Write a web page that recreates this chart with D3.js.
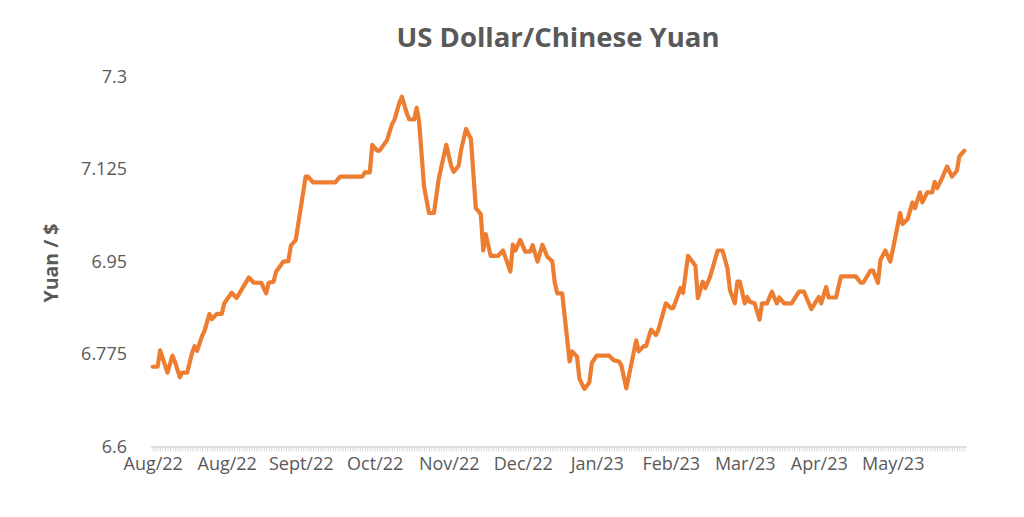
<!DOCTYPE html>
<html>
<head>
<meta charset="utf-8">
<script src="https://cdn.jsdelivr.net/npm/d3@7"></script>
<style>
  html, body { margin: 0; padding: 0; background: #fff; }
  svg { display: block; }
  text { font-family: "Open Sans", sans-serif; fill: #595959; }
</style>
</head>
<body>
<svg id="chart" width="1024" height="517"></svg>
<script>
// ---- data (day index from start of series, USD/CNY rate) ----
const dayIndex = [0,2,3,6,8,9,11,12,14,16,17,18,20,21,23,24,26,28,29,32,34,39,41,44,46,47,49,50,53,55,56,58,62,63,65,74,76,85,86,88,89,91,92,95,97,98,100,101,103,104,106,107,108,110,112,114,116,117,119,121,122,124,125,127,129,131,133,134,135,137,140,142,145,146,147,149,151,153,154,156,158,160,162,163,164,166,169,170,172,173,175,177,178,180,185,187,189,190,192,196,197,199,200,202,204,205,208,210,211,214,215,217,220,221,223,224,226,229,231,233,234,236,237,238,240,241,242,244,246,247,249,251,253,254,256,259,262,264,267,270,271,273,274,277,279,285,287,288,291,292,294,295,297,299,300,303,304,306,308,309,311,312,314,316,317,318,320,322,324,326,327,329];
const rate = [6.751,6.751,6.782,6.740,6.772,6.761,6.731,6.740,6.740,6.778,6.790,6.781,6.809,6.819,6.851,6.841,6.851,6.851,6.871,6.891,6.881,6.920,6.910,6.910,6.890,6.910,6.912,6.931,6.950,6.951,6.980,6.991,7.111,7.111,7.100,7.100,7.111,7.111,7.119,7.119,7.171,7.160,7.160,7.180,7.210,7.218,7.251,7.262,7.231,7.219,7.219,7.241,7.215,7.092,7.042,7.042,7.108,7.129,7.171,7.131,7.120,7.131,7.161,7.201,7.182,7.051,7.040,6.971,7.002,6.961,6.961,6.971,6.931,6.982,6.971,6.991,6.969,6.969,6.981,6.950,6.982,6.959,6.950,6.910,6.890,6.890,6.761,6.780,6.770,6.728,6.709,6.721,6.758,6.772,6.772,6.763,6.761,6.753,6.710,6.801,6.780,6.790,6.790,6.821,6.811,6.821,6.871,6.862,6.862,6.900,6.891,6.961,6.942,6.881,6.912,6.900,6.922,6.971,6.971,6.937,6.896,6.871,6.912,6.912,6.871,6.883,6.874,6.871,6.840,6.871,6.871,6.893,6.871,6.882,6.871,6.871,6.893,6.893,6.860,6.883,6.871,6.902,6.882,6.882,6.922,6.922,6.910,6.910,6.933,6.933,6.910,6.953,6.971,6.950,6.972,7.042,7.021,7.030,7.062,7.051,7.081,7.062,7.081,7.081,7.101,7.089,7.108,7.130,7.111,7.122,7.149,7.160];
const nDays = 330;
const tickIdx = [0,30,60,90,120,150,180,210,240,270,300];
const tickLabels = ["Aug/22","Aug/22","Sept/22","Oct/22","Nov/22","Dec/22","Jan/23","Feb/23","Mar/23","Apr/23","May/23"];
const yTicks = [6.6,6.775,6.95,7.125,7.3];
const title = "US Dollar/Chinese Yuan";
const yTitle = "Yuan / $";

const svg = d3.select("#chart");
const x = d3.scaleLinear().domain([0, nDays - 1]).range([152.7, 964.3]);
const y = d3.scaleLinear().domain([6.6, 7.3]).range([446.5, 76.7]);

// title
svg.append("text")
  .attr("x", 558).attr("y", 46.5)
  .attr("text-anchor", "middle")
  .style("font-size", "27.5px").style("font-weight", "bold")
  .text(title);

// y axis title
svg.append("text")
  .attr("transform", "translate(58,263) rotate(-90)")
  .attr("text-anchor", "middle")
  .style("font-size", "19.5px").style("font-weight", "bold")
  .text(yTitle);

// y axis labels (no line)
const yAxis = d3.axisLeft(y).tickValues(yTicks).tickSize(0).tickPadding(0)
  .tickFormat(d => String(d));
const gy = svg.append("g").attr("transform", "translate(127,0)").call(yAxis);
gy.select(".domain").remove();
gy.selectAll("text").style("font-size", "18px").attr("fill", "#595959")
  .style("font-family", "'Open Sans', sans-serif");

// x axis: one tick per day
const allDays = d3.range(nDays);
const xAxisTicks = d3.axisBottom(x).tickValues(allDays).tickSize(5).tickFormat("");
const gx = svg.append("g").attr("transform", "translate(0,446.5)").call(xAxisTicks);
gx.select(".domain").attr("d", "M151,0.5H967").attr("stroke", "#d9d9d9").attr("stroke-width", 1.5);
gx.selectAll(".tick line").attr("stroke", "#d9d9d9").attr("stroke-width", 1);

// x axis labels
const xAxisLabels = d3.axisBottom(x).tickValues(tickIdx).tickSize(0).tickPadding(0)
  .tickFormat((d, i) => tickLabels[i]);
const gxl = svg.append("g").attr("transform", "translate(0,457)").call(xAxisLabels);
gxl.select(".domain").remove();
gxl.selectAll("text").style("font-size", "18px").attr("fill", "#595959")
  .style("font-family", "'Open Sans', sans-serif");

// line
const pts = dayIndex.map((d, i) => [d, rate[i]]);
const line = d3.line().x(d => x(d[0])).y(d => y(d[1]));
svg.append("path")
  .datum(pts)
  .attr("d", line)
  .attr("fill", "none")
  .attr("stroke", "#ED7D31")
  .attr("stroke-width", 4.2)
  .attr("stroke-linejoin", "round")
  .attr("stroke-linecap", "round");
</script>
</body>
</html>
